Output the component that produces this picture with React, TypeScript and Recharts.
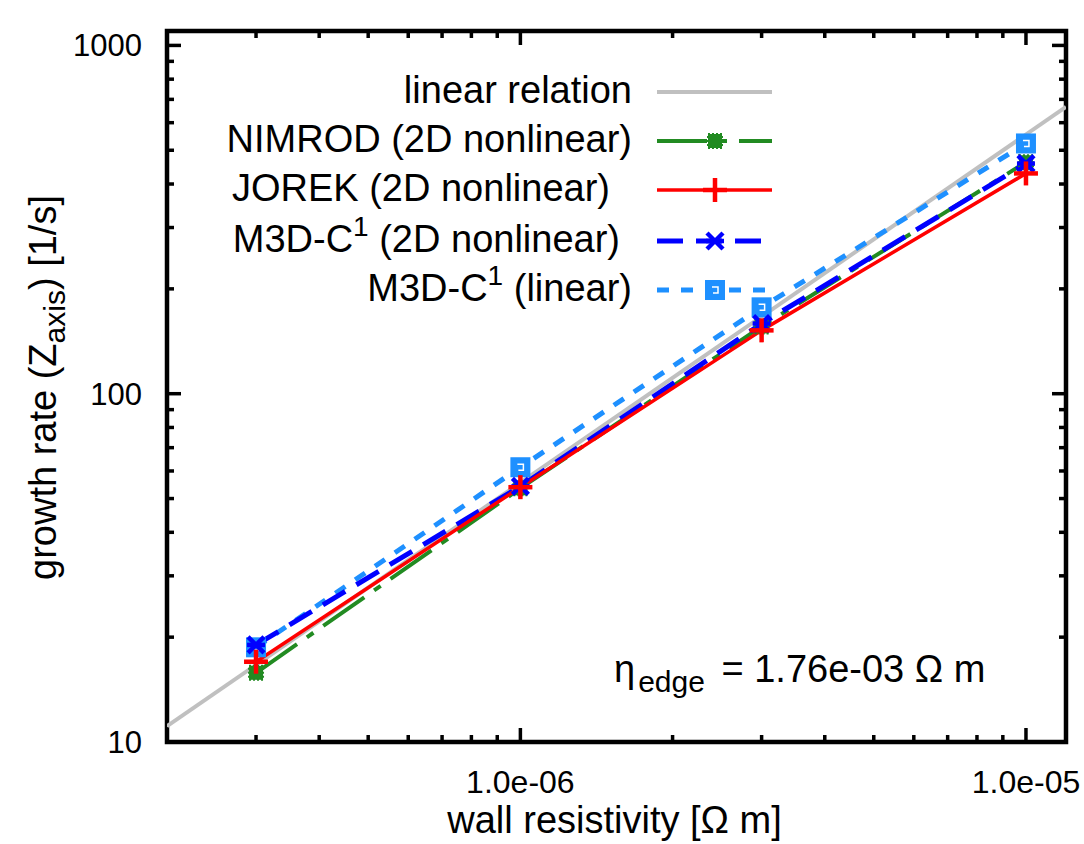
import React from 'react';
import { ComposedChart, Line, XAxis, YAxis, ReferenceArea, Legend } from 'recharts';

// ---- data ----
const resistivity = [3e-7, 1e-6, 3e-6, 1e-5];
const nimrodRate = [15.8, 53.5, 156, 462];
const jorekRate = [17.0, 53.9, 152, 429];
const m3dNonlinRate = [19.0, 54.2, 159, 458];
const m3dLinRate = [18.7, 61.5, 177, 523];
const linearRelX = [2e-7, 1.2e-5];
const linearRelY = [11.1, 666];

const xDomain = [2e-7, 1.2e-5];
const yDomain = [10, 1100];
const xMajorTicks = [1e-6, 1e-5];
const xMajorLabels = ['1.0e-06', '1.0e-05'];
const xMinorTicks = [3e-7, 4e-7, 5e-7, 6e-7, 7e-7, 8e-7, 9e-7, 2e-6, 3e-6, 4e-6, 5e-6, 6e-6, 7e-6, 8e-6, 9e-6];
const yMajorTicks = [10, 100, 1000];
const yMajorLabels = ['10', '100', '1000'];
const yMinorTicks = [20, 30, 40, 50, 60, 70, 80, 90, 200, 300, 400, 500, 600, 700, 800, 900];

const legendLabels = ['linear relation', 'NIMROD (2D nonlinear)', 'JOREK (2D nonlinear)', 'M3D-C1 (2D nonlinear)', 'M3D-C1 (linear)'];
const annotation = { sym: 'η', sub: 'edge', rest: ' = 1.76e-03 Ω m' };

const toPoints = (xs: number[], ys: number[]) => xs.map((x, i) => ({ x, y: ys[i] }));
const linearData = toPoints(linearRelX, linearRelY);
const nimrodData = toPoints(resistivity, nimrodRate);
const jorekData = toPoints(resistivity, jorekRate);
const m3dNonlinData = toPoints(resistivity, m3dNonlinRate);
const m3dLinData = toPoints(resistivity, m3dLinRate);

// ---- style ----
const FONT = '"Liberation Sans", Arial, Helvetica, sans-serif';
const W = 1084, H = 844;
const PL = 167, PR = 1066, PT = 31, PB = 742;
const PLOT_W = PR - PL, PLOT_H = PB - PT;
const C_GRAY = '#c0c0c0', C_GREEN = '#228b22', C_RED = '#ff0000', C_BLUE = '#0000ff', C_LBLUE = '#1e90ff';
const DASH_GREEN = '50 12 8 12', DASH_BLUE = '26 13', DASH_LBLUE = '12 12';

const near = (a: number, b: number) => Math.abs(a - b) / Math.abs(b) < 1e-6;

const XTick = (props: any) => {
  const { x, y, payload } = props;
  const v = payload.value;
  const mi = xMajorTicks.findIndex((m) => near(v, m));
  const len = mi >= 0 ? 14 : 7;
  return (
    <g>
      <line x1={x} x2={x} y1={y} y2={y - len} stroke="#000" strokeWidth={3.5} />
      <line x1={x} x2={x} y1={y - PLOT_H} y2={y - PLOT_H + len} stroke="#000" strokeWidth={3.5} />
      {mi >= 0 && (
        <text x={x} y={y + 51} textAnchor="middle" fontSize={32} fontFamily={FONT} fill="#000">
          {xMajorLabels[mi]}
        </text>
      )}
    </g>
  );
};

const YTick = (props: any) => {
  const { x, y, payload } = props;
  const v = payload.value;
  const mi = yMajorTicks.findIndex((m) => near(v, m));
  const len = mi >= 0 ? 14 : 7;
  return (
    <g>
      <line x1={x} x2={x + len} y1={y} y2={y} stroke="#000" strokeWidth={3.5} />
      <line x1={x + PLOT_W} x2={x + PLOT_W - len} y1={y} y2={y} stroke="#000" strokeWidth={3.5} />
      {mi >= 0 && (
        <text x={x - 25} y={y + 11} textAnchor="end" fontSize={31} fontFamily={FONT} fill="#000">
          {yMajorLabels[mi]}
        </text>
      )}
    </g>
  );
};

const SquareMarker = ({ cx, cy }: any) => (
  <g>
    <rect x={cx - 7} y={cy - 7} width={14} height={14} fill={C_GREEN} stroke={C_GREEN} strokeWidth={2} strokeDasharray="2 2" />
  </g>
);
const PlusMarker = ({ cx, cy }: any) => (
  <g stroke={C_RED} strokeWidth={4.5}>
    <line x1={cx - 12} x2={cx + 12} y1={cy} y2={cy} />
    <line x1={cx} x2={cx} y1={cy - 12} y2={cy + 12} />
  </g>
);
const StarMarker = ({ cx, cy }: any) => (
  <g stroke={C_BLUE} strokeWidth={4.5}>
    <line x1={cx - 8} x2={cx + 8} y1={cy - 8} y2={cy + 8} />
    <line x1={cx - 8} x2={cx + 8} y1={cy + 8} y2={cy - 8} />
    <line x1={cx - 9} x2={cx + 9} y1={cy} y2={cy} />
  </g>
);
const BoxMarker = ({ cx, cy }: any) => (
  <g>
    <rect x={cx - 10} y={cy - 10} width={20} height={20} fill={C_LBLUE} />
    <path d={`M${cx - 3},${cy - 3}H${cx + 3}V${cy + 3}H${cx - 2}`} stroke="#fff" strokeWidth={1.5} fill="none" />
  </g>
);

const dotOf = (M: any) => (p: any) => <M key={`m-${p.index}`} cx={p.cx} cy={p.cy} />;

const legendRows = [
  { color: C_GRAY, width: 4, dash: undefined, M: null, endX: 632 },
  { color: C_GREEN, width: 4, dash: DASH_GREEN, M: SquareMarker, endX: 632 },
  { color: C_RED, width: 3.5, dash: undefined, M: PlusMarker, endX: 610 },
  { color: C_BLUE, width: 5, dash: DASH_BLUE, M: StarMarker, endX: 620 },
  { color: C_LBLUE, width: 5, dash: DASH_LBLUE, M: BoxMarker, endX: 632 },
];
const rowY = [92, 141, 190, 241, 290];

const renderLabel = (label: string) => {
  const idx = label.indexOf('C1');
  if (idx < 0) return label;
  return [
    <tspan key="a">{label.slice(0, idx + 1)}</tspan>,
    <tspan key="b" fontSize={28} dy={-16}>1</tspan>,
    <tspan key="c" dy={16}>{label.slice(idx + 2)}</tspan>,
  ];
};

const LegendContent = () => (
  <svg width={W} height={H} style={{ position: 'absolute', left: 0, top: 0, pointerEvents: 'none', overflow: 'visible' }}>
    {legendRows.map((r, i) => {
      const M: any = r.M;
      return (
        <g key={i}>
          <text x={r.endX} y={rowY[i] + 11} textAnchor="end" fontSize={38} fontFamily={FONT} fill="#000">
            {renderLabel(legendLabels[i])}
          </text>
          <line x1={657} x2={772} y1={rowY[i]} y2={rowY[i]} stroke={r.color} strokeWidth={r.width} strokeDasharray={r.dash} />
          {M && <M cx={715} cy={rowY[i]} />}
        </g>
      );
    })}
    <text x={614} y={682} fontSize={38} fontFamily={FONT} fill="#000">
      {annotation.sym}
      <tspan fontSize={30} dx={3} dy={10}>{annotation.sub}</tspan>
      <tspan dx={6} dy={-10}>{annotation.rest}</tspan>
    </text>
  </svg>
);

const XTitle = (props: any) => {
  const vb = props.viewBox || {};
  return (
    <text x={vb.x + vb.width / 2 - 2} y={833} textAnchor="middle" fontSize={38} fontFamily={FONT} fill="#000">
      wall resistivity [Ω m]
    </text>
  );
};

const YTitle = (props: any) => {
  const vb = props.viewBox || {};
  const cy = vb.y + vb.height / 2 + 1;
  return (
    <text x={56} y={cy} transform={`rotate(-90 56 ${cy})`} textAnchor="middle" fontSize={38} fontFamily={FONT} fill="#000">
      growth rate (Z
      <tspan fontSize={30} dy={9}>axis</tspan>
      <tspan dy={-9}>) [1/s]</tspan>
    </text>
  );
};

export default function App() {
  return (
    <div style={{ position: 'absolute', left: 0, top: 0, width: W, height: H, background: '#fff' }}>
      <ComposedChart width={W} height={H} margin={{ top: PT, right: W - PR, left: PL - 100, bottom: H - PB - 60 }}>
        <XAxis
          dataKey="x"
          type="number"
          scale="log"
          domain={xDomain}
          allowDataOverflow
          ticks={[...xMinorTicks, ...xMajorTicks].sort((a, b) => a - b)}
          interval={0}
          tick={<XTick />}
          tickSize={0}
          tickMargin={0}
          axisLine={false}
          tickLine={false}
          height={60}
          label={<XTitle />}
        />
        <YAxis
          dataKey="y"
          type="number"
          scale="log"
          domain={yDomain}
          allowDataOverflow
          ticks={[...yMinorTicks, ...yMajorTicks].sort((a, b) => a - b)}
          interval={0}
          tick={<YTick />}
          tickSize={0}
          tickMargin={0}
          axisLine={false}
          tickLine={false}
          width={100}
          label={<YTitle />}
        />
        <Line data={linearData} dataKey="y" stroke={C_GRAY} strokeWidth={4} dot={false} isAnimationActive={false} legendType="none" />
        <Line data={m3dLinData} dataKey="y" stroke={C_LBLUE} strokeWidth={5} strokeDasharray={DASH_LBLUE} dot={dotOf(BoxMarker)} isAnimationActive={false} />
        <Line data={nimrodData} dataKey="y" stroke={C_GREEN} strokeWidth={4} strokeDasharray={DASH_GREEN} dot={dotOf(SquareMarker)} isAnimationActive={false} />
        <Line data={m3dNonlinData} dataKey="y" stroke={C_BLUE} strokeWidth={5} strokeDasharray={DASH_BLUE} dot={dotOf(StarMarker)} isAnimationActive={false} />
        <Line data={jorekData} dataKey="y" stroke={C_RED} strokeWidth={3.5} dot={dotOf(PlusMarker)} isAnimationActive={false} />
        <ReferenceArea x1={xDomain[0]} x2={xDomain[1]} y1={yDomain[0]} y2={yDomain[1]} fill="none" stroke="#000" strokeWidth={4.5} ifOverflow="extendDomain" />
        <Legend layout="vertical" align="center" verticalAlign="middle" wrapperStyle={{ left: 0, top: 0, width: W, height: H, pointerEvents: 'none' }} content={<LegendContent />} />
      </ComposedChart>
    </div>
  );
}
